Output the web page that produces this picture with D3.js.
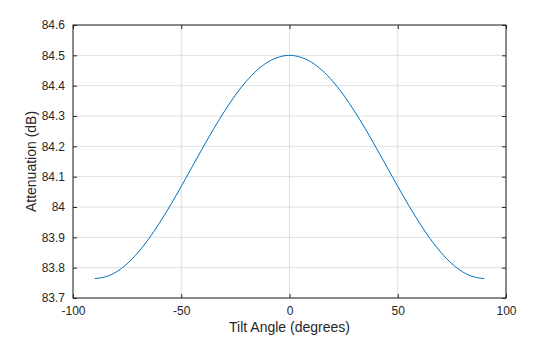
<!DOCTYPE html>
<html>
<head>
<meta charset="utf-8">
<script src="https://cdn.jsdelivr.net/npm/d3@7"></script>
<style>
  body { margin: 0; background: #fff; }
  text { font-family: "Liberation Sans", Arial, sans-serif; fill: #262626; }
</style>
</head>
<body>
<script>
// data
var angles = [-90, -85, -80, -75, -70, -65, -60, -55, -50, -45, -40, -35, -30, -25, -20, -15, -10, -5,
              0, 5, 10, 15, 20, 25, 30, 35, 40, 45, 50, 55, 60, 65, 70, 75, 80, 85, 90];
var attenuation = [83.764, 83.770, 83.786, 83.813, 83.850, 83.895, 83.948, 84.006, 84.068, 84.132,
                   84.196, 84.258, 84.316, 84.369, 84.414, 84.451, 84.478, 84.494,
                   84.500, 84.494, 84.478, 84.451, 84.414, 84.369, 84.316, 84.258, 84.196,
                   84.132, 84.068, 84.006, 83.948, 83.895, 83.850, 83.813, 83.786, 83.770, 83.764];
var xTicks = [-100, -50, 0, 50, 100];
var yTicks = [83.7, 83.8, 83.9, 84, 84.1, 84.2, 84.3, 84.4, 84.5, 84.6];

var margin = {top: 25, right: 54, bottom: 39, left: 73},
    width = 560 - margin.left - margin.right,
    height = 337 - margin.top - margin.bottom;

var data = angles.map(function(a, i) { return {x: a, y: attenuation[i]}; });

var x = d3.scaleLinear().domain([-100, 100]).range([0, width]);
var y = d3.scaleLinear().domain([83.7, 84.6]).range([height, 0]);

// plain hyphen for negatives, like the original
var fmt = function(d) { return String(+d.toFixed(1)); };

var svg = d3.select("body").append("svg")
    .attr("width", 560)
    .attr("height", 337)
    .append("g")
    .attr("transform", "translate(" + margin.left + "," + margin.top + ")");

// grid
svg.append("g").selectAll("line").data(xTicks).enter().append("line")
    .attr("x1", function(d) { return x(d); }).attr("x2", function(d) { return x(d); })
    .attr("y1", 0).attr("y2", height)
    .style("stroke", "#dfdfdf").style("stroke-width", 1);
svg.append("g").selectAll("line").data(yTicks).enter().append("line")
    .attr("y1", function(d) { return y(d); }).attr("y2", function(d) { return y(d); })
    .attr("x1", 0).attr("x2", width)
    .style("stroke", "#dfdfdf").style("stroke-width", 1);

// the curve
var line = d3.line()
    .x(function(d) { return x(d.x); })
    .y(function(d) { return y(d.y); })
    .curve(d3.curveMonotoneX);

svg.append("path")
    .datum(data)
    .attr("fill", "none")
    .style("stroke", "#0072BD")
    .style("stroke-width", 1)
    .attr("d", line);

// axes, ticks pointing inward
function styleAxis(g) {
  g.select(".domain").remove();
  g.selectAll(".tick line").style("stroke", "#262626");
  g.selectAll(".tick text").style("font-size", "12px").style("fill", "#262626")
    .style("font-family", "'Liberation Sans', Arial, sans-serif");
}

svg.append("g")
    .attr("transform", "translate(0," + height + ")")
    .call(d3.axisBottom(x).tickValues(xTicks).tickSizeInner(-4).tickSizeOuter(0).tickPadding(8).tickFormat(fmt))
    .call(styleAxis);
svg.append("g")
    .call(d3.axisTop(x).tickValues(xTicks).tickSizeInner(-4).tickSizeOuter(0).tickFormat(""))
    .call(styleAxis);
svg.append("g")
    .call(d3.axisLeft(y).tickValues(yTicks).tickSizeInner(-4).tickSizeOuter(0).tickPadding(8).tickFormat(fmt))
    .call(styleAxis);
svg.append("g")
    .attr("transform", "translate(" + width + ",0)")
    .call(d3.axisRight(y).tickValues(yTicks).tickSizeInner(-4).tickSizeOuter(0).tickFormat(""))
    .call(styleAxis);

// box
svg.append("rect")
    .attr("x", 0).attr("y", 0)
    .attr("width", width).attr("height", height)
    .attr("fill", "none")
    .style("stroke", "#262626")
    .style("stroke-width", 1);

// x axis label
svg.append("text")
    .attr("x", width / 2)
    .attr("y", height + 34)
    .style("text-anchor", "middle")
    .style("font-size", "14px")
    .text("Tilt Angle (degrees)");

// y axis label
svg.append("text")
    .attr("transform", "rotate(-90)")
    .attr("x", -height / 2)
    .attr("y", -37)
    .style("text-anchor", "middle")
    .style("font-size", "14px")
    .text("Attenuation (dB)");
</script>
</body>
</html>
